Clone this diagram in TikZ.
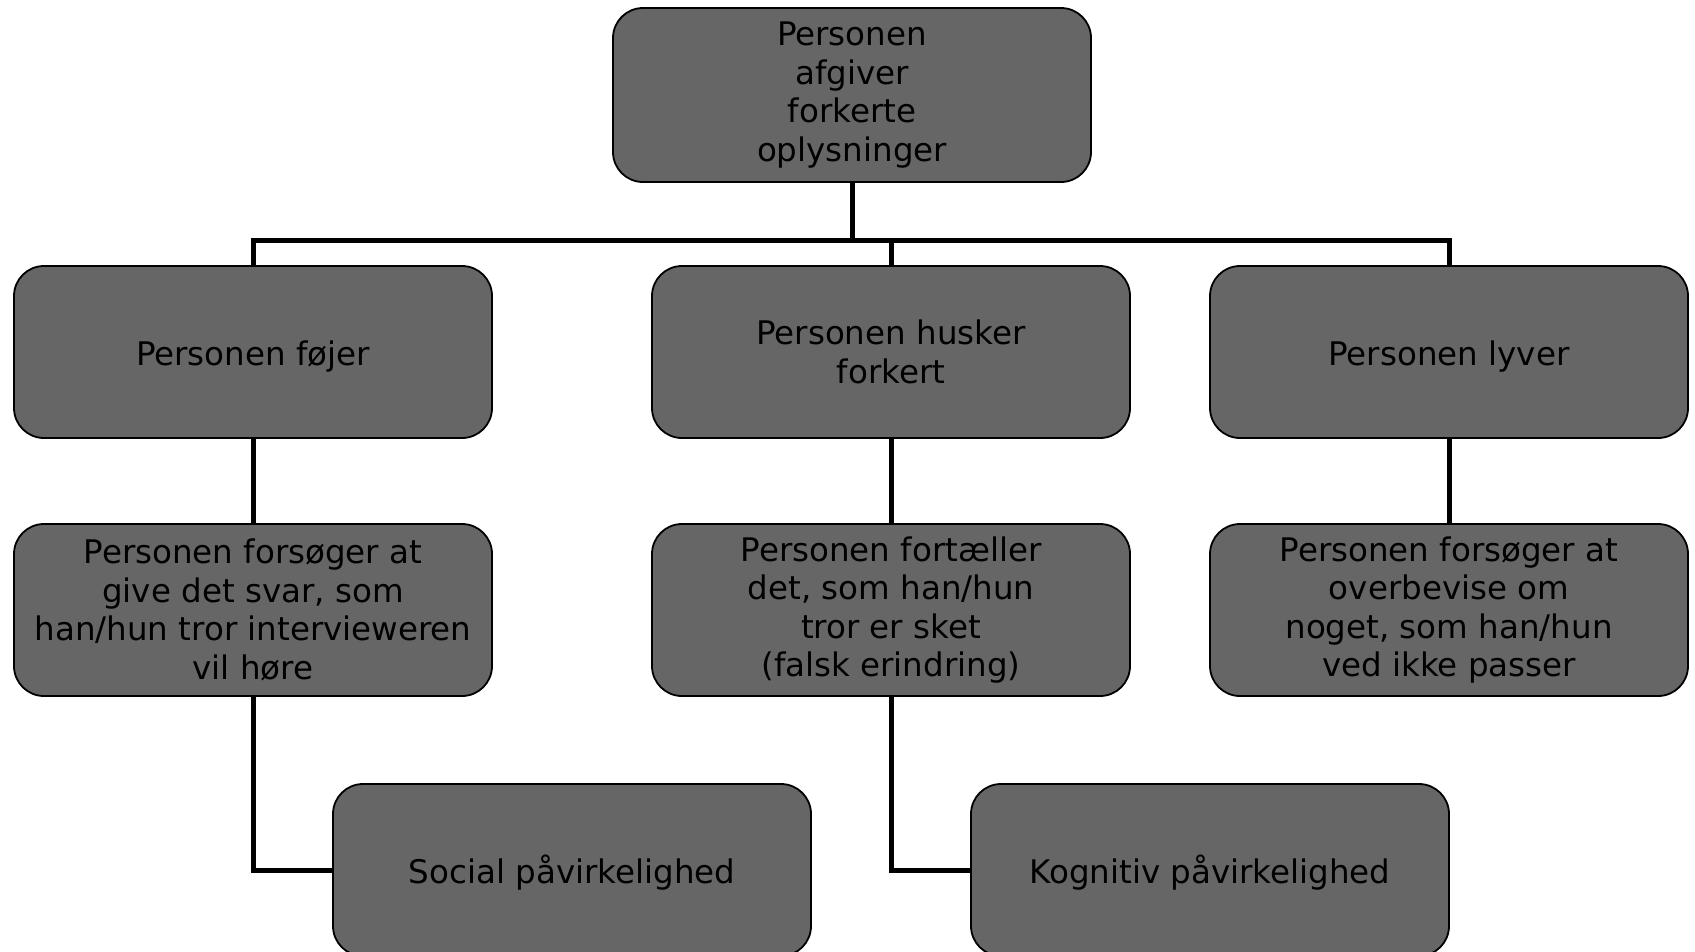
\documentclass[tikz,border=0pt]{standalone}
\usepackage{fontspec}
\setmainfont{DejaVu Sans}
\definecolor{boxgray}{HTML}{666666}
\tikzset{
  box/.style={draw=black, line width=1.8pt, fill=boxgray, rounded corners=30pt,
    minimum width=478pt, minimum height=172pt, align=center, inner sep=0pt,
    font=\fontsize{32.5}{38.5}\selectfont, text=black,
    execute at begin node={\rule{0pt}{33pt}}},
  mlbox/.style={box, execute at begin node={\rule{0pt}{40pt}}},
  conn/.style={draw=black, line width=5pt}
}
\begin{document}
\begin{tikzpicture}[x=1pt,y=-1pt]
\useasboundingbox (0,0) rectangle (1695,951);
\node[mlbox, minimum height=174pt] (top) at (852,95) {Personen\\afgiver\\forkerte\\oplysninger};
\node[box] (a) at (253,352) {Personen føjer};
\node[mlbox] (b) at (891,352) {Personen husker\\forkert};
\node[box] (c) at (1449,352) {Personen lyver};
\node[mlbox] (a2) at (253,610) {Personen forsøger at\\give det svar, som\\han/hun tror intervieweren\\vil høre};
\node[mlbox] (b2) at (891,610) {Personen fortæller\\det, som han/hun\\tror er sket\\(falsk erindring)};
\node[mlbox] (c2) at (1449,610) {Personen forsøger at\\overbevise om\\noget, som han/hun\\ved ikke passer};
\node[box] (s) at (572,870) {Social påvirkelighed};
\node[box] (k) at (1210,870) {Kognitiv påvirkelighed};
\coordinate (bus) at (852,240);
\draw[conn] (top.south) -- (bus);
\draw[conn] (a.north) |- (bus);
\draw[conn] (c.north) |- (bus);
\draw[conn] (b.north) -- (b.north |- bus);
\draw[conn] (a.south) -- (a2.north);
\draw[conn] (b.south) -- (b2.north);
\draw[conn] (c.south) -- (c2.north);
\draw[conn] (a2.south) |- (s.west);
\draw[conn] (b2.south) |- (k.west);
\end{tikzpicture}
\end{document}
